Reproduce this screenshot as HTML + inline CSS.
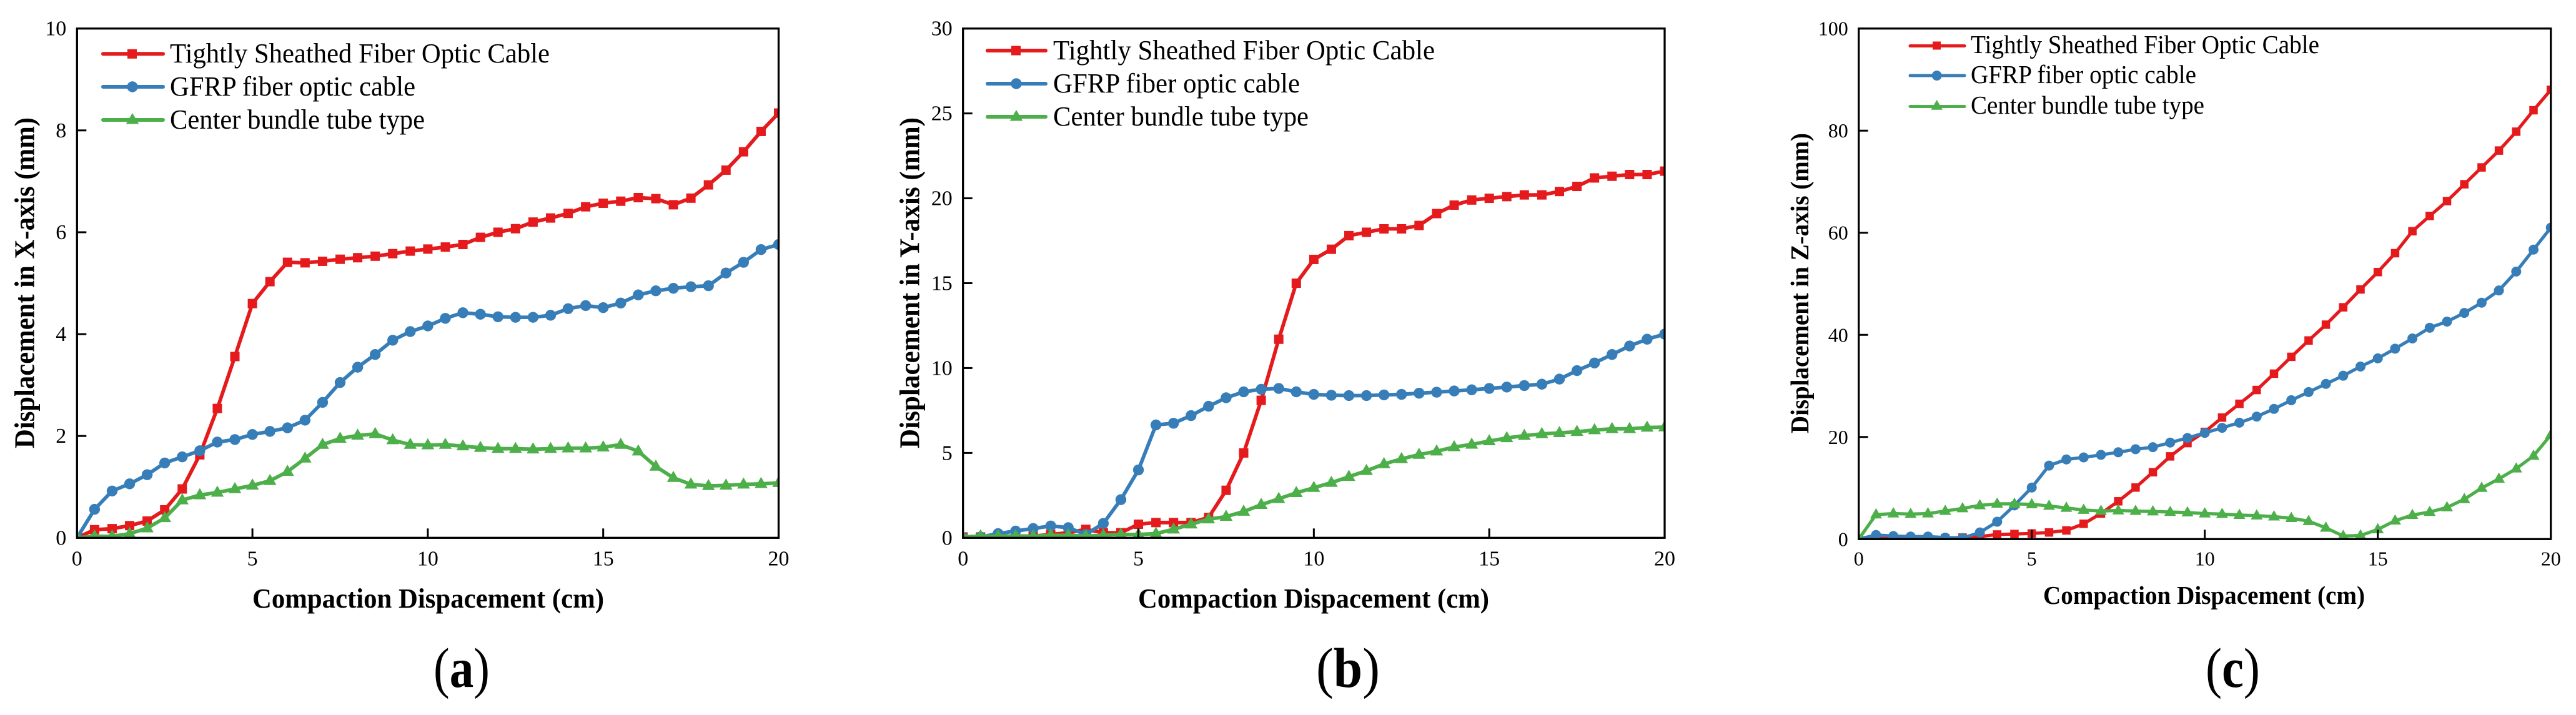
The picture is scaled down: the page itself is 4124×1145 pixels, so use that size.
<!DOCTYPE html>
<html lang="en">
<head>
<meta charset="utf-8">
<title>Displacement versus compaction displacement</title>
<style>
html,body{margin:0;padding:0;background:#fff;width:4124px;height:1145px;overflow:hidden}
svg{display:block}
text{font-family:"Liberation Serif","Times New Roman",serif;fill:#000}
.leg{font-size:44px}
.xtitle{font-size:44px;font-weight:bold}
.ytitle{font-size:45px;font-weight:bold}
.lline{stroke-width:6;stroke-linecap:round}
</style>
</head>
<body>
<svg id="figure" xmlns="http://www.w3.org/2000/svg" width="4124" height="1145" viewBox="0 0 4124 1145">
  <rect width="4124" height="1145" fill="#fff"/>

  <g id="panel-a">
    <text class="xtitle" x="404" y="973" textLength="563" lengthAdjust="spacingAndGlyphs">Compaction Dispacement (cm)</text>
    <text class="ytitle" transform="translate(54.5,718) rotate(-90)" textLength="530" lengthAdjust="spacingAndGlyphs">Displacement in X-axis (mm)</text>
    <text x="694" y="1100" font-size="90" textLength="90" lengthAdjust="spacingAndGlyphs">(<tspan font-weight="bold">a</tspan>)</text>
  </g>

  <g id="panel-b">
    <text class="xtitle" x="1822" y="973" textLength="562" lengthAdjust="spacingAndGlyphs">Compaction Dispacement (cm)</text>
    <text class="ytitle" transform="translate(1471.7,718) rotate(-90)" textLength="530" lengthAdjust="spacingAndGlyphs">Displacement in Y-axis (mm)</text>
    <text x="2107" y="1100" font-size="90" textLength="102" lengthAdjust="spacingAndGlyphs">(<tspan font-weight="bold">b</tspan>)</text>
  </g>

  <g id="panel-c">
    <text class="xtitle" style="font-size:41px" x="3271" y="967" textLength="515" lengthAdjust="spacingAndGlyphs">Compaction Dispacement (cm)</text>
    <text class="ytitle" style="font-size:41px" transform="translate(2895,694) rotate(-90)" textLength="481" lengthAdjust="spacingAndGlyphs">Displacement in Z-axis (mm)</text>
    <text x="3531" y="1100" font-size="90" textLength="87" lengthAdjust="spacingAndGlyphs">(<tspan font-weight="bold">c</tspan>)</text>
  </g>

  <g>
    <g>
      <line class="lline" x1="165" x2="261" y1="86.3" y2="86.3" stroke="#E41A1C"/>
      <rect x="204" y="78.8" width="15" height="15" fill="#E41A1C"/>
      <text class="leg" x="272" y="100" textLength="608" lengthAdjust="spacingAndGlyphs">Tightly Sheathed Fiber Optic Cable</text>
    </g>
    <g>
      <line class="lline" x1="165" x2="261" y1="139" y2="139" stroke="#377EB8"/>
      <circle cx="212" cy="139" r="8.7" fill="#377EB8"/>
      <text class="leg" x="272" y="153" textLength="393" lengthAdjust="spacingAndGlyphs">GFRP fiber optic cable</text>
    </g>
    <g>
      <line class="lline" x1="165" x2="261" y1="192" y2="192" stroke="#4DAF4A"/>
      <polygon points="212,181 222.3,198.5 201.7,198.5" fill="#4DAF4A"/>
      <text class="leg" x="272" y="206" textLength="408" lengthAdjust="spacingAndGlyphs">Center bundle tube type</text>
    </g>
  </g>

  <g>
    <g>
      <line class="lline" x1="1581" x2="1674" y1="81" y2="81" stroke="#E41A1C"/>
      <rect x="1619" y="73.5" width="15" height="15" fill="#E41A1C"/>
      <text class="leg" x="1686" y="95" textLength="611" lengthAdjust="spacingAndGlyphs">Tightly Sheathed Fiber Optic Cable</text>
    </g>
    <g>
      <line class="lline" x1="1581" x2="1674" y1="134" y2="134" stroke="#377EB8"/>
      <circle cx="1627" cy="134" r="8.7" fill="#377EB8"/>
      <text class="leg" x="1686" y="148" textLength="395" lengthAdjust="spacingAndGlyphs">GFRP fiber optic cable</text>
    </g>
    <g>
      <line class="lline" x1="1581" x2="1674" y1="187" y2="187" stroke="#4DAF4A"/>
      <polygon points="1627,176 1637.3,193.5 1616.7,193.5" fill="#4DAF4A"/>
      <text class="leg" x="1686" y="201" textLength="409" lengthAdjust="spacingAndGlyphs">Center bundle tube type</text>
    </g>
  </g>

  <g>
    <g>
      <line class="lline" style="stroke-width:5" x1="3058" x2="3145" y1="73.5" y2="73.5" stroke="#E41A1C"/>
      <rect x="3094" y="66.5" width="13" height="13" fill="#E41A1C"/>
      <text class="leg" style="font-size:41px" x="3155" y="85" textLength="558" lengthAdjust="spacingAndGlyphs">Tightly Sheathed Fiber Optic Cable</text>
    </g>
    <g>
      <line class="lline" style="stroke-width:5" x1="3058" x2="3145" y1="121" y2="121" stroke="#377EB8"/>
      <circle cx="3100.7" cy="121" r="8" fill="#377EB8"/>
      <text class="leg" style="font-size:41px" x="3155" y="133" textLength="361" lengthAdjust="spacingAndGlyphs">GFRP fiber optic cable</text>
    </g>
    <g>
      <line class="lline" style="stroke-width:5" x1="3058" x2="3145" y1="170.5" y2="170.5" stroke="#4DAF4A"/>
      <polygon points="3100.7,160 3110,175.8 3091.4,175.8" fill="#4DAF4A"/>
      <text class="leg" style="font-size:41px" x="3155" y="182" textLength="374" lengthAdjust="spacingAndGlyphs">Center bundle tube type</text>
    </g>
  </g>
</svg>

<script>
// Shared categories and tick labels
const compaction = [0,0.5,1,1.5,2,2.5,3,3.5,4,4.5,5,5.5,6,6.5,7,7.5,8,8.5,9,9.5,10,10.5,11,11.5,12,12.5,13,13.5,14,14.5,15,15.5,16,16.5,17,17.5,18,18.5,19,19.5,20];
const xTickValues = [0,5,10,15,20];
const yTicksA = [0,2,4,6,8,10];
const yTicksB = [0,5,10,15,20,25,30];
const yTicksC = [0,20,40,60,80,100];

// Panel (a) X-axis displacement, mm
const tightA = [0,0.16,0.18,0.24,0.33,0.55,0.96,1.63,2.54,3.56,4.6,5.03,5.41,5.4,5.43,5.47,5.5,5.53,5.58,5.63,5.67,5.71,5.76,5.9,6.0,6.07,6.2,6.28,6.37,6.5,6.57,6.61,6.68,6.66,6.54,6.67,6.93,7.22,7.58,7.98,8.34];
const gfrpA = [0,0.56,0.92,1.06,1.24,1.47,1.59,1.71,1.88,1.93,2.03,2.09,2.16,2.31,2.66,3.05,3.35,3.6,3.88,4.05,4.16,4.31,4.42,4.39,4.34,4.33,4.33,4.37,4.5,4.56,4.52,4.61,4.77,4.85,4.9,4.93,4.95,5.2,5.41,5.66,5.76];
const centerA = [0,0.03,0.03,0.08,0.19,0.39,0.74,0.84,0.89,0.96,1.03,1.12,1.3,1.56,1.83,1.95,2.01,2.04,1.92,1.83,1.82,1.83,1.8,1.77,1.75,1.75,1.74,1.75,1.76,1.76,1.78,1.83,1.7,1.4,1.18,1.05,1.02,1.03,1.05,1.06,1.08];

// Panel (b) Y-axis displacement, mm
const tightB = [0.05,0.05,0.1,0.1,0.1,0.2,0.3,0.5,0.3,0.3,0.8,0.9,0.9,0.9,1.2,2.8,5.0,8.1,11.7,15.0,16.4,17.0,17.8,18.0,18.2,18.2,18.4,19.1,19.6,19.9,20.0,20.1,20.2,20.2,20.4,20.7,21.2,21.3,21.4,21.4,21.6];
const gfrpB = [0,0.05,0.25,0.4,0.55,0.7,0.6,0.2,0.85,2.25,4.0,6.65,6.75,7.2,7.75,8.25,8.6,8.75,8.8,8.6,8.45,8.4,8.38,8.38,8.42,8.45,8.52,8.58,8.65,8.72,8.8,8.88,8.97,9.05,9.35,9.85,10.3,10.8,11.3,11.7,12.0];
const centerB = [0.05,0.1,0.1,0.1,0.1,0.15,0.15,0.1,0.15,0.2,0.2,0.25,0.5,0.8,1.1,1.25,1.55,1.95,2.3,2.65,2.95,3.25,3.6,3.95,4.35,4.65,4.9,5.1,5.35,5.5,5.7,5.88,6.02,6.12,6.18,6.25,6.35,6.42,6.42,6.5,6.52];

// Panel (c) Z-axis displacement, mm
const tightC = [0,0.4,0.2,0.2,0.2,0.2,0.3,0.5,0.9,1.0,1.1,1.3,1.7,3.0,5.0,7.4,10.1,13.1,16.2,18.8,21.0,23.8,26.5,29.2,32.4,35.7,38.9,42.0,45.4,48.9,52.3,56.0,60.3,63.3,66.2,69.5,72.8,76.1,79.8,84,88];
const gfrpC = [0,0.8,0.6,0.5,0.5,0.3,0.2,1.3,3.4,6.6,10.1,14.4,15.6,16.0,16.5,17.0,17.6,18.0,18.9,19.8,20.8,21.8,22.8,24.0,25.5,27.2,28.8,30.4,32.0,33.8,35.4,37.3,39.3,41.4,42.6,44.3,46.3,48.7,52.4,56.7,61];
const centerC = [0,4.8,5.0,4.9,5.0,5.5,6.0,6.6,6.9,6.9,6.8,6.5,6.1,5.7,5.5,5.6,5.5,5.4,5.3,5.2,5.0,4.9,4.7,4.6,4.4,4.1,3.5,2.2,0.6,0.7,1.9,3.6,4.7,5.3,6.2,7.8,10.0,11.8,13.8,16.3,20.4];

const SVGNS = 'http://www.w3.org/2000/svg';
const RED = '#E41A1C', BLUE = '#377EB8', GREEN = '#4DAF4A';

function make(tag, attrs, parent) {
  const node = document.createElementNS(SVGNS, tag);
  for (const key in attrs) node.setAttribute(key, attrs[key]);
  parent.appendChild(node);
  return node;
}

function drawPanel(id, frame, yMax, yTicks, series, marker) {
  const root = document.getElementById(id);
  const xScale = v => frame.left + (v / 20) * (frame.right - frame.left);
  const yScale = v => frame.bottom - (v / yMax) * (frame.bottom - frame.top);

  const clip = make('clipPath', {id: id + '-clip'}, root);
  make('rect', {x: frame.left, y: frame.top, width: frame.right - frame.left, height: frame.bottom - frame.top}, clip);

  const marks = make('g', {'clip-path': 'url(#' + id + '-clip)'}, root);
  
  

  series.forEach(s => {
    const group = make('g', {}, marks);
    
    

    const pts = compaction.map((x, i) => xScale(x).toFixed(2) + ',' + yScale(s.values[i]).toFixed(2)).join(' ');
    const line = make('polyline', {points: pts, fill: 'none', stroke: s.color, 'stroke-width': marker.stroke, 'stroke-linejoin': 'round'}, group);
    
    

    compaction.forEach((x, i) => {
      const cx = xScale(x), cy = yScale(s.values[i]);
      let mark;
      if (s.shape === 'square') {
        mark = make('rect', {x: cx - marker.square / 2, y: cy - marker.square / 2, width: marker.square, height: marker.square, fill: s.color}, group);
      } else if (s.shape === 'circle') {
        mark = make('circle', {cx: cx, cy: cy, r: marker.circle, fill: s.color}, group);
      } else {
        const w = marker.tri;
        mark = make('polygon', {points: cx + ',' + (cy - w * 1.08) + ' ' + (cx + w) + ',' + (cy + w * 0.65) + ' ' + (cx - w) + ',' + (cy + w * 0.65), fill: s.color}, group);
      }
      
      
    });
  });

  const frameRect = make('rect', {x: frame.left, y: frame.top, width: frame.right - frame.left, height: frame.bottom - frame.top, fill: 'none', stroke: '#000', 'stroke-width': 3.3}, root);
  
  

  xTickValues.forEach(v => {
    const tx = xScale(v);
    if (v > 0 && v < 20) {
      const tick = make('line', {x1: tx, x2: tx, y1: frame.bottom, y2: frame.bottom - 15, stroke: '#000', 'stroke-width': 3}, root);
      
      
    }
    const label = make('text', {x: tx, y: frame.bottom + frame.xLabelGap, 'text-anchor': 'middle', 'font-size': frame.tickFont}, root);
    label.textContent = String(v);
    
    
  });

  yTicks.forEach(v => {
    const ty = yScale(v);
    if (v > 0 && v < yMax) {
      const tick = make('line', {x1: frame.left, x2: frame.left + 15, y1: ty, y2: ty, stroke: '#000', 'stroke-width': 3}, root);
      
      
    }
    const label = make('text', {x: frame.left - 17, y: ty + 11, 'text-anchor': 'end', 'font-size': frame.tickFont}, root);
    label.textContent = String(v);
    
    
  });
}

const bigMarker = {stroke: 5.8, square: 15, circle: 8.7, tri: 10.3};
const smallMarker = {stroke: 5.2, square: 13.5, circle: 8, tri: 9.5};

drawPanel('panel-a', {left: 123.3, right: 1246.5, top: 45.7, bottom: 861.3, xLabelGap: 44, tickFont: 34}, 10, yTicksA, [
  {name: 'tight', values: tightA, color: RED, shape: 'square'},
  {name: 'gfrp', values: gfrpA, color: BLUE, shape: 'circle'},
  {name: 'center', values: centerA, color: GREEN, shape: 'triangle'}
], bigMarker);

drawPanel('panel-b', {left: 1541.7, right: 2665, top: 45.7, bottom: 861.3, xLabelGap: 44, tickFont: 34}, 30, yTicksB, [
  {name: 'tight', values: tightB, color: RED, shape: 'square'},
  {name: 'gfrp', values: gfrpB, color: BLUE, shape: 'circle'},
  {name: 'center', values: centerB, color: GREEN, shape: 'triangle'}
], bigMarker);

drawPanel('panel-c', {left: 2975.7, right: 4083.7, top: 45.7, bottom: 863.3, xLabelGap: 42, tickFont: 32}, 100, yTicksC, [
  {name: 'tight', values: tightC, color: RED, shape: 'square'},
  {name: 'gfrp', values: gfrpC, color: BLUE, shape: 'circle'},
  {name: 'center', values: centerC, color: GREEN, shape: 'triangle'}
], smallMarker);
</script>
</body>
</html>
